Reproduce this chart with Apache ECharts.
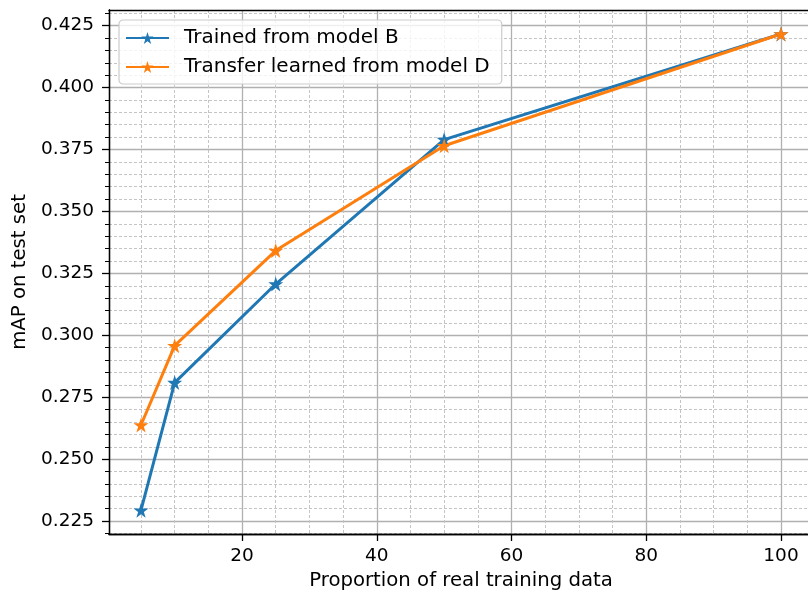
<!DOCTYPE html>
<html>
<head>
<meta charset="utf-8">
<script src="https://cdn.jsdelivr.net/npm/echarts@6/dist/echarts.min.js"></script>
<style>
html, body { margin: 0; padding: 0; background: #fff; }
#chart { width: 808px; height: 595px; }
</style>
</head>
<body>
<div id="chart"></div>
<script>
// values
const proportion = [5, 10, 25, 50, 100];
const trainedFromB = [0.2294, 0.2809, 0.3207, 0.3790, 0.4216];
const transferFromD = [0.2638, 0.2958, 0.3342, 0.3765, 0.4216];
const seriesNames = ['Trained from model B', 'Transfer learned from model D'];
const xTicks = [20, 40, 60, 80, 100];
const yTicks = [0.225, 0.25, 0.275, 0.3, 0.325, 0.35, 0.375, 0.4, 0.425];

const font = 'DejaVu Sans';

// minor ticks: every 5 on x, every 0.005 on y
const xMinor = [];
for (let v = 5; v <= 100; v += 5) {
    if (v % 20) xMinor.push(v);
}
const yMinor = [];
for (let i = 44; i <= 86; i++) {
    if (i % 5) yMinor.push(+(i * 0.005).toFixed(3));
}

// matplotlib-like '*' marker
function starPath() {
    const pts = [];
    for (let k = 0; k < 10; k++) {
        const r = k % 2 ? 0.382 : 1;
        const a = -Math.PI / 2 + k * Math.PI / 5;
        pts.push((r * Math.cos(a)).toFixed(3) + ' ' + (r * Math.sin(a)).toFixed(3));
    }
    return 'path://M' + pts.join(' L') + ' Z';
}
const star = starPath();

const xRange = {min: 0.25, max: 104.75};
const yRange = {min: 0.2198, max: 0.4313};

const minorGrid = {show: true, lineStyle: {color: '#c4c4c4', width: 1, type: [3, 2]}};
const majorGrid = {show: true, lineStyle: {color: '#b0b0b0', width: 1.3}};
const spine = {show: true, lineStyle: {color: '#000', width: 1.3}};

const makeSeries = (name, values, color) => ({
    name,
    type: 'line',
    xAxisIndex: 0,
    yAxisIndex: 0,
    data: proportion.map((p, i) => [p, values[i]]),
    symbol: star,
    symbolSize: 15,
    itemStyle: {color},
    lineStyle: {color, width: 3},
    emphasis: {disabled: true}
});

const option = {
    animation: false,
    backgroundColor: '#fff',
    textStyle: {fontFamily: font},
    grid: {
        left: 109,
        top: 10,
        width: 704,
        height: 524,
        containLabel: false,
        outerBoundsMode: 'none'
    },
    legend: {
        orient: 'vertical',
        left: 119,
        top: 20,
        data: seriesNames,
        itemWidth: 43,
        itemHeight: 15,
        itemGap: 9,
        padding: [8, 12, 7, 6],
        backgroundColor: 'rgba(255,255,255,0.8)',
        borderColor: '#cccccc',
        borderWidth: 1.2,
        borderRadius: 4,
        textStyle: {fontFamily: font, fontSize: 20, color: '#000', padding: [0, 0, 0, 10]}
    },
    xAxis: [
        {
            type: 'value',
            ...xRange,
            position: 'bottom',
            axisLine: spine,
            axisTick: {show: false, customValues: xMinor},
            axisLabel: {show: false},
            splitLine: minorGrid
        },
        {
            type: 'value',
            ...xRange,
            position: 'bottom',
            axisLine: spine,
            axisTick: {show: true, customValues: xTicks, length: 7, lineStyle: {color: '#000', width: 1.3}},
            axisLabel: {customValues: xTicks, margin: 13, fontFamily: font, fontSize: 18.5, color: '#000'},
            splitLine: majorGrid,
            name: 'Proportion of real training data',
            nameLocation: 'middle',
            nameGap: 36,
            nameTextStyle: {fontFamily: font, fontSize: 19.7, color: '#000'}
        },
        {
            type: 'value',
            ...xRange,
            position: 'top',
            axisLine: spine,
            axisTick: {show: false},
            axisLabel: {show: false},
            splitLine: {show: false}
        }
    ],
    yAxis: [
        {
            type: 'value',
            ...yRange,
            position: 'left',
            axisLine: spine,
            axisTick: {show: true, customValues: yMinor, length: 4, lineStyle: {color: '#000', width: 1}},
            axisLabel: {show: false},
            splitLine: minorGrid
        },
        {
            type: 'value',
            ...yRange,
            position: 'left',
            axisLine: spine,
            axisTick: {show: true, customValues: yTicks, length: 7, lineStyle: {color: '#000', width: 1.3}},
            axisLabel: {
                customValues: yTicks,
                margin: 15,
                fontFamily: font,
                fontSize: 18.5,
                color: '#000',
                formatter: v => v.toFixed(3)
            },
            splitLine: majorGrid,
            name: 'mAP on test set',
            nameLocation: 'middle',
            nameRotate: 90,
            nameGap: 77,
            nameTextStyle: {fontFamily: font, fontSize: 19.7, color: '#000'}
        }
    ],
    series: [
        makeSeries(seriesNames[0], trainedFromB, '#1f77b4'),
        makeSeries(seriesNames[1], transferFromD, '#ff7f0e')
    ]
};

const myChart = echarts.init(document.getElementById('chart'), null, {renderer: 'canvas'});
myChart.setOption(option);
</script>
</body>
</html>
